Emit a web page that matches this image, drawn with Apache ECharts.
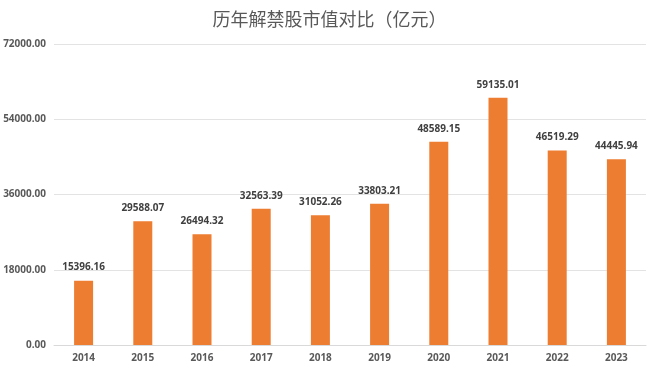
<!DOCTYPE html>
<html><head><meta charset="utf-8">
<script src="https://cdn.jsdelivr.net/npm/echarts@6/dist/echarts.min.js"></script>
<style>html,body{margin:0;padding:0;background:#fff}#c{width:659px;height:372px}</style>
</head><body><div id="c"></div>
<script>
const titleText = '历年解禁股市值对比（亿元）';
const categories = ['2014','2015','2016','2017','2018','2019','2020','2021','2022','2023'];
const values = [15396.16, 29588.07, 26494.32, 32563.39, 31052.26, 33803.21, 48589.15, 59135.01, 46519.29, 44445.94];
const yMin = 0, yMax = 72000, yStep = 18000;

const chart = echarts.init(document.getElementById('c'));
chart.setOption({
  animation: false,
  backgroundColor: '#fff',
  title: {
    text: titleText, left: 'center', top: 5,
    textStyle: { fontFamily: 'Noto Sans CJK SC', fontSize: 18, fontWeight: 'normal', color: '#595959' }
  },
  grid: { left: 54, right: 13, top: 44, bottom: 27 },
  xAxis: {
    type: 'category', data: categories,
    axisLine: { lineStyle: { color: '#d9d9d9' } },
    axisTick: { show: false },
    axisLabel: { color: '#595959', fontSize: 10, fontWeight: 'bold', fontFamily: 'Noto Sans', margin: 8 }
  },
  yAxis: {
    type: 'value', min: yMin, max: yMax, interval: yStep,
    axisLabel: { color: '#595959', fontSize: 10, fontWeight: 'bold', fontFamily: 'Noto Sans', formatter: v => v.toFixed(2), margin: 8 },
    splitLine: { lineStyle: { color: '#e3e3e3' } },
    axisLine: { show: false }, axisTick: { show: false }
  },
  series: [{
    type: 'bar', data: values, barWidth: 19,
    itemStyle: { color: '#ED7D31' },
    label: { show: true, position: 'top', distance: 8, color: '#404040', fontSize: 10, fontWeight: 'bold', fontFamily: 'Noto Sans', formatter: p => p.value.toFixed(2) }
  }]
});
</script></body></html>
